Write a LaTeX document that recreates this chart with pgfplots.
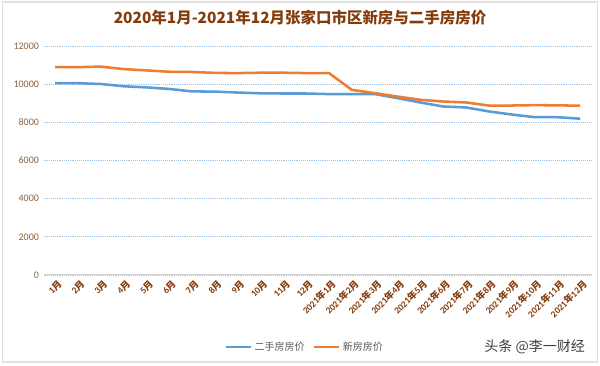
\documentclass[border=0pt]{standalone}
\usepackage{pgfplots}
\pgfplotsset{compat=1.18}
\usepackage{pgfplotstable}
\usepackage{fontspec}
\setmainfont{Carlito}
\newfontfamily\cjk{Noto Sans CJK SC}
\newcommand{\nian}{{\cjk 年}}
\newcommand{\yue}{{\cjk 月}}
\definecolor{blueline}{HTML}{5B9BD5}
\definecolor{orangeline}{HTML}{ED7D31}
\definecolor{titlebrown}{HTML}{843C0C}
\definecolor{ybrown}{HTML}{8A6442}
\definecolor{gridblue}{HTML}{9DC3E6}
\pgfplotstableread{
x second new
0 10050 10890
1 10050 10890
2 10010 10920
3 9890 10790
4 9830 10720
5 9750 10650
6 9620 10640
7 9610 10590
8 9560 10580
9 9520 10600
10 9510 10600
11 9510 10580
12 9480 10580
13 9480 9700
14 9480 9530
15 9270 9350
16 9040 9180
17 8830 9090
18 8780 9040
19 8570 8880
20 8410 8880
21 8270 8900
22 8270 8890
23 8190 8870
}\prices
\begin{document}
\begin{tikzpicture}
\useasboundingbox (0,0) rectangle (450pt,274.5pt);
\fill[white] (0,0) rectangle (450pt,274.5pt);
\draw[black!12, line width=1pt] (2pt,3pt) rectangle (448pt,273pt);
\node[font=\cjk\bfseries\fontsize{11.6}{13}\selectfont, text=titlebrown] at (225pt,261pt) {2020年1月-2021年12月张家口市区新房与二手房房价};
\begin{axis}[
  at={(32.7pt,68.25pt)}, anchor=south west,
  scale only axis, width=411pt, height=171.75pt,
  xmin=-0.5, xmax=23.5, ymin=0, ymax=12000,
  axis line style={draw=none},
  axis x line*=bottom,
  xtick=data,
  xticklabels={1\yue,2\yue,3\yue,4\yue,5\yue,6\yue,7\yue,8\yue,9\yue,10\yue,11\yue,12\yue,
    2021\nian1\yue,2021\nian2\yue,2021\nian3\yue,2021\nian4\yue,2021\nian5\yue,2021\nian6\yue,
    2021\nian7\yue,2021\nian8\yue,2021\nian9\yue,2021\nian10\yue,2021\nian11\yue,2021\nian12\yue},
  xticklabel style={rotate=45, anchor=east, font=\bfseries\fontsize{7}{8}\selectfont, text=titlebrown, inner sep=1pt, yshift=-6.5pt},
  ytick={0,2000,4000,6000,8000,10000,12000},
  yticklabel style={font=\fontsize{7.5}{9}\selectfont, text=ybrown},
  /pgf/number format/assume math mode=true,
  /pgf/number format/1000 sep={},
  scaled y ticks=false,
  major tick length=0pt,
  ymajorgrids,
  grid style={gridblue, densely dotted, line width=0.6pt},
  legend columns=2,
  legend style={at={(0.477,-0.314)}, anchor=center, draw=none, fill=none,
    font=\cjk\fontsize{7.5}{9}\selectfont, text=black!65,
    /tikz/every even column/.append style={column sep=4pt}},
  legend image code/.code={\draw[#1, line width=1.6pt] (0pt,0pt) -- (19pt,0pt);},
]
\draw[black!18, line width=0.8pt] (axis cs:-0.5,0) -- (axis cs:23.5,0);
\addplot[blueline, line width=1.9pt] table[x=x, y=second] {\prices};
\addlegendentry{二手房房价}
\addplot[orangeline, line width=1.9pt] table[x=x, y=new] {\prices};
\addlegendentry{新房房价}
\end{axis}
\node[font=\cjk\fontsize{10.5}{12}\selectfont, text=black!75] at (401pt,14.25pt) {头条 @李一财经};
\end{tikzpicture}
\end{document}
